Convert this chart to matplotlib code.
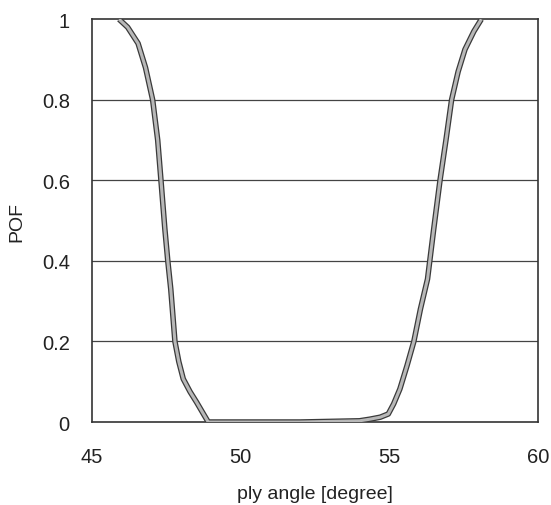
import matplotlib
matplotlib.use("Agg")
import matplotlib.pyplot as plt

plt.rcParams['font.family'] = ['Liberation Sans', 'DejaVu Sans']

ply_angle = [45.91, 46.20, 46.55, 46.80, 47.04, 47.21, 47.32, 47.45, 47.55, 47.65,
             47.79, 47.92, 48.07, 48.30, 48.52, 48.75, 48.91,
             50.0, 52.0, 54.0, 54.35, 54.70, 54.97, 55.15, 55.36, 55.60, 55.83,
             56.05, 56.29, 56.50, 56.71, 56.91, 57.10, 57.32, 57.55, 57.85, 58.10]
pof = [1.0, 0.98, 0.94, 0.88, 0.80, 0.70, 0.60, 0.48, 0.40, 0.33,
       0.20, 0.15, 0.107, 0.075, 0.049, 0.02, 0.0,
       0.0, 0.0, 0.003, 0.007, 0.012, 0.02, 0.045, 0.082, 0.14, 0.20,
       0.28, 0.355, 0.48, 0.60, 0.70, 0.80, 0.87, 0.925, 0.97, 1.0]

x_ticks = [45, 50, 55, 60]
y_ticks = [0, 0.2, 0.4, 0.6, 0.8, 1]
y_tick_labels = ["0", "0.2", "0.4", "0.6", "0.8", "1"]

fig = plt.figure(figsize=(5.51, 5.06), dpi=100)
ax = fig.add_axes([0.167, 0.164, 0.809, 0.796])

for yv in y_ticks[1:-1]:
    ax.axhline(yv, color='#444444', lw=0.9, zorder=1)

ax.plot(ply_angle, pof, color='#3a3a3a', lw=4.0, solid_capstyle='butt', zorder=3)
ax.plot(ply_angle, pof, color='#b8b8b8', lw=2.2, solid_capstyle='butt', zorder=4)

ax.set_xlim(45, 60)
ax.set_ylim(0, 1)
ax.set_xticks(x_ticks)
ax.set_yticks(y_ticks)
ax.set_yticklabels(y_tick_labels)
ax.tick_params(length=0, labelsize=14.5, colors='#222222')
ax.tick_params(axis='x', pad=18)
ax.tick_params(axis='y', pad=16)
for s in ax.spines.values():
    s.set_color('#333333')
    s.set_linewidth(1.2)

ax.set_xlabel('ply angle [degree]', fontsize=14, color='#222222', labelpad=14)
ax.set_ylabel('POF', fontsize=14, color='#222222', labelpad=12)

fig.savefig('out.png', dpi=100)
